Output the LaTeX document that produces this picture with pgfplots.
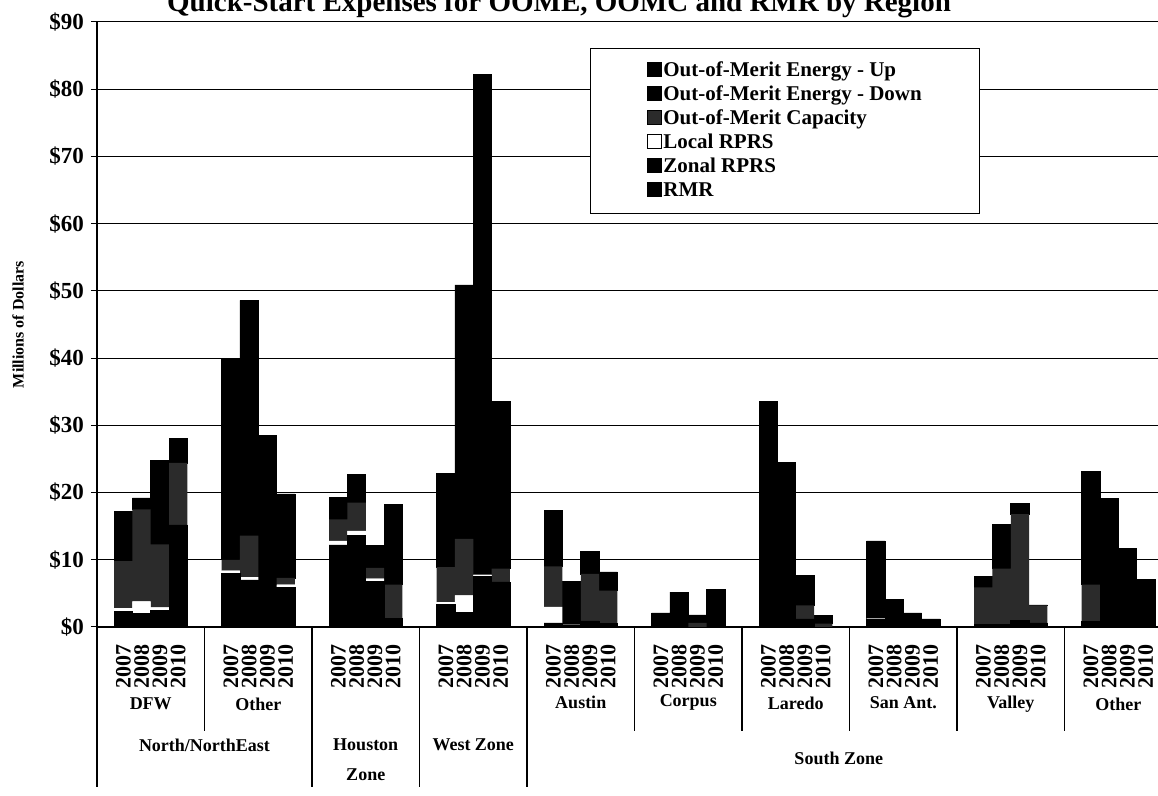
\documentclass[border=0pt]{standalone}
\usepackage{fontspec}
\setmainfont{Liberation Serif}
\usepackage{pgfplots}
\usepackage{pgfplotstable}
\pgfplotsset{compat=1.18}

\newcommand\tickfont{\bfseries\fontsize{11.5}{13}\selectfont}
\newcommand\yearfont{\bfseries\fontsize{11}{13}\selectfont}
\newcommand\grpfont{\bfseries\fontsize{9}{15}\selectfont}
\newcommand\legfont{\bfseries\fontsize{10.5}{12}\selectfont}

\definecolor{oomc}{gray}{0.17}

% Millions of dollars per year; columns stack from the bottom up:
% RMR, Zonal RPRS, Local RPRS, OOM capacity, OOM energy down, OOM energy up
\pgfplotstableread{
x      rmr   zonal local oomc  down  up
-0.255 0     2.3   0.5   7.0   2.4   5.0
-0.085 0     2.0   1.8   13.7  0.5   1.2
0.085  0     2.5   0.4   9.4   4.0   8.5
0.255  0     15.2  0     9.2   0     3.6
0.745  8.0   0     0.4   1.6   10.0  20.0
0.915  7.0   0     0.4   6.2   15.0  20.0
1.085  0     5.0   0     0     8.5   15.0
1.255  0     5.9   0.4   1.0   4.5   8.0
1.745  0     12.2  0.6   3.2   1.3   2.0
1.915  0     13.6  0.7   4.2   1.7   2.5
2.085  0     6.8   0.4   1.6   1.3   2.0
2.255  0     1.3   0     5.0   4.4   7.5
2.745  0     3.4   0.3   5.2   6.4   7.5
2.915  0     2.2   2.5   8.4   25.0  12.8
3.085  0     7.5   0.3   0     60.0  14.4
3.255  0     6.7   0     2.0   18.0  6.8
3.745  0     0.6   2.4   6.0   3.4   5.0
3.915  0     0.2   0.15  0     2.45  4.0
4.085  0     0.9   0     7.0   1.3   2.0
4.255  0     0.5   0     4.9   1.0   1.8
4.745  0     0     0     0     0.8   1.3
4.915  0     0     0     0     2.0   3.2
5.085  0     0     0     0.6   0.5   0.7
5.255  0     0     0     0     2.2   3.4
5.745  30.0  0     0     0     0     3.5
5.915  20.0  0     0     0     0     4.5
6.085  0     1.2   0     2.0   1.5   3.0
6.255  0     0     0     0.5   0     1.2
6.745  0     1.1   0.2   0     4.5   7.0
6.915  0     0     0     0     1.5   2.6
7.085  0     0     0     0     0.8   1.3
7.255  0     0     0     0     0.5   0.7
7.745  0     0.4   0     5.5   0     1.6
7.915  0     0.4   0     8.3   2.6   4.0
8.085  0     1.0   0     15.8  0     1.6
8.255  0     0.6   0     2.6   0     0.1
8.745  0     0.8   0     5.5   6.9   10.0
8.915  0     0     0     0     7.1   12.0
9.085  0     0     0     0     4.7   7.0
9.255  0     0     0     0     2.6   4.5
}\costs

\begin{document}
\begin{tikzpicture}
\begin{axis}[
  scale only axis,
  width=537.5pt, height=302.5pt,
  xmin=-0.5, xmax=9.5,
  ymin=0, ymax=90,
  ybar stacked, bar width=0.17,
  clip=false,
  axis x line*=bottom, axis y line*=left,
  axis line style={line width=0.6pt, -},
  ymajorgrids, grid style={black, line width=0.5pt},
  ytick={0,10,...,90},
  yticklabels={\$0,\$10,\$20,\$30,\$40,\$50,\$60,\$70,\$80,\$90},
  yticklabel style={font=\tickfont},
  tick align=outside, major tick length=3pt,
  major x tick style={draw=none},
  tick style={black, line width=0.5pt},
  xtick=data,
  xticklabels={2007,2008,2009,2010,2007,2008,2009,2010,2007,2008,2009,2010,
               2007,2008,2009,2010,2007,2008,2009,2010,2007,2008,2009,2010,
               2007,2008,2009,2010,2007,2008,2009,2010,2007,2008,2009,2010,
               2007,2008,2009,2010},
  xticklabel style={rotate=90, anchor=east, inner sep=0pt, font=\yearfont},
  xticklabel shift=5.5pt,
  ylabel={Millions of Dollars},
  ylabel style={at={(axis description cs:-0.0735,0.5)}, anchor=center,
                font=\bfseries\fontsize{8}{10}\selectfont},
  reverse legend,
  legend style={at={(axis description cs:0.4587,0.957)}, anchor=north west,
    draw=black, line width=0.5pt, fill=white,
    inner xsep=28pt, inner ysep=5.5pt, font=\legfont,
    cells={anchor=west},
    nodes={inner xsep=1pt, inner ysep=0.5pt, text height=8pt, text depth=2.5pt},
    /tikz/row sep=0.5pt},
  legend image code/.code={\draw[#1, draw=black, line width=0.4pt]
    (0pt,-2.75pt) rectangle (7pt,4.15pt);},
]
\addplot[fill=black, draw=black, line width=0.3pt] table[x=x, y=rmr] {\costs};
\addlegendentry{RMR}
\addplot[fill=black, draw=black, line width=0.3pt] table[x=x, y=zonal] {\costs};
\addlegendentry{Zonal RPRS}
\addplot[fill=white, draw=none] table[x=x, y=local] {\costs};
\addlegendentry{Local RPRS}
\addplot[fill=oomc, draw=none] table[x=x, y=oomc] {\costs};
\addlegendentry{Out-of-Merit Capacity}
\addplot[fill=black, draw=black, line width=0.3pt] table[x=x, y=down] {\costs};
\addlegendentry{Out-of-Merit Energy - Down}
\addplot[fill=black, draw=black, line width=0.3pt] table[x=x, y=up] {\costs};
\addlegendentry{Out-of-Merit Energy - Up}

% category separators below the axis: zone borders run deeper
\draw[line width=0.6pt] ([yshift=-80pt]axis cs:-0.5,0) -- (axis cs:-0.5,0);
\draw[line width=0.6pt] ([yshift=-80pt]axis cs:1.5,0) -- (axis cs:1.5,0);
\draw[line width=0.6pt] ([yshift=-80pt]axis cs:2.5,0) -- (axis cs:2.5,0);
\draw[line width=0.6pt] ([yshift=-80pt]axis cs:3.5,0) -- (axis cs:3.5,0);
\draw[line width=0.6pt] ([yshift=-80pt]axis cs:9.5,0) -- (axis cs:9.5,0);
\draw[line width=0.6pt] ([yshift=-52pt]axis cs:0.5,0) -- (axis cs:0.5,0);
\draw[line width=0.6pt] ([yshift=-52pt]axis cs:4.5,0) -- (axis cs:4.5,0);
\draw[line width=0.6pt] ([yshift=-52pt]axis cs:5.5,0) -- (axis cs:5.5,0);
\draw[line width=0.6pt] ([yshift=-52pt]axis cs:6.5,0) -- (axis cs:6.5,0);
\draw[line width=0.6pt] ([yshift=-52pt]axis cs:7.5,0) -- (axis cs:7.5,0);
\draw[line width=0.6pt] ([yshift=-52pt]axis cs:8.5,0) -- (axis cs:8.5,0);

% sub-region names
\node[font=\grpfont] at ([yshift=-38.5pt]axis cs:0,0) {DFW};
\node[font=\grpfont] at ([yshift=-38.5pt]axis cs:1,0) {Other};
\node[font=\grpfont] at ([yshift=-37.5pt]axis cs:4,0) {Austin};
\node[font=\grpfont] at ([yshift=-37.5pt]axis cs:5,0) {Corpus};
\node[font=\grpfont] at ([yshift=-38pt]axis cs:6,0) {Laredo};
\node[font=\grpfont] at ([yshift=-38pt]axis cs:7,0) {San Ant.};
\node[font=\grpfont] at ([yshift=-38.5pt]axis cs:8,0) {Valley};
\node[font=\grpfont] at ([yshift=-38.5pt]axis cs:9,0) {Other};

% zone names
\node[font=\grpfont] at ([yshift=-59pt]axis cs:0.5,0) {North/NorthEast};
\node[font=\grpfont, align=center] at ([yshift=-66.5pt]axis cs:2,0) {Houston\\Zone};
\node[font=\grpfont] at ([yshift=-59pt]axis cs:3,0) {West Zone};
\node[font=\grpfont] at ([yshift=-65.5pt]axis cs:6.4,0) {South Zone};
\end{axis}

\node[anchor=base east, font=\bfseries\fontsize{14.5}{16}\selectfont]
  at (430.5pt,307.5pt) {Quick-Start Expenses for OOME, OOMC and RMR by Region};

\pgfresetboundingbox
\useasboundingbox (-48.5pt,-84.5pt) rectangle (530.5pt,313.5pt);
\end{tikzpicture}
\end{document}
